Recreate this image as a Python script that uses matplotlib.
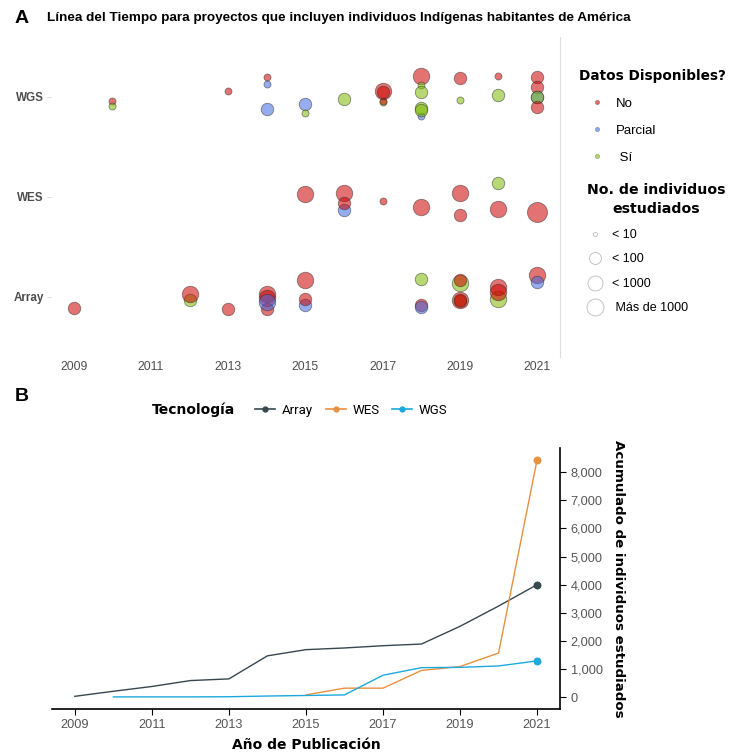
import matplotlib
matplotlib.use("Agg")
import matplotlib.pyplot as plt
from matplotlib.lines import Line2D
from matplotlib.ticker import FuncFormatter

# ---------------- Panel A: estudios por tecnologia ----------------
# Cada estudio: anio, desplazamiento vertical (jitter), datos disponibles, clase de tamano
wgs_years = [2010, 2010, 2013, 2014, 2014, 2014, 2015, 2015, 2016,
             2017, 2017, 2017, 2017, 2018, 2018, 2018, 2018, 2018, 2018,
             2019, 2019, 2020, 2020, 2021, 2021, 2021, 2021, 2021]
wgs_jitter = [-0.04, -0.09, 0.06, 0.20, 0.13, -0.12, -0.07, -0.16, -0.02,
              -0.05, -0.04, 0.06, 0.05, 0.21, 0.12, -0.19, -0.11, -0.13, 0.05,
              0.19, -0.03, 0.21, 0.02, 0.20, 0.10, 0.0, 0.0, -0.10]
wgs_datos = ["No", "Sí", "No", "No", "Parcial", "Parcial", "Parcial", "Sí", "Sí",
             "Sí", "No", "No", "No", "No", "Sí", "Parcial", "Sí", "Sí", "Sí",
             "No", "Sí", "No", "Sí", "No", "No", "Parcial", "Sí", "No"]
wgs_size = [1, 1, 1, 1, 1, 2, 2, 1, 2,
            1, 1, 3, 2, 3, 1, 1, 2, 2, 2,
            2, 1, 1, 2, 2, 2, 2, 2, 2]

wes_years = [2015, 2016, 2016, 2016, 2017, 2018, 2019, 2019, 2020, 2020, 2021]
wes_jitter = [0.03, 0.035, -0.135, -0.065, -0.04, -0.10, 0.04, -0.18, 0.14, -0.12, -0.15]
wes_datos = ["No", "No", "Parcial", "No", "No", "No", "No", "No", "Sí", "No", "No"]
wes_size = [3, 3, 2, 2, 1, 3, 3, 2, 2, 3, 4]

array_years = [2009, 2012, 2012, 2013, 2014, 2014, 2014, 2014, 2015, 2015, 2015,
               2018, 2018, 2018, 2019, 2019, 2019, 2019, 2019, 2020, 2020, 2020,
               2021, 2021]
array_jitter = [-0.11, -0.03, 0.03, -0.12, -0.12, 0.03, -0.01, -0.05, 0.17, -0.08, -0.02,
                0.18, -0.08, -0.10, 0.14, 0.17, -0.04, -0.03, -0.035, -0.02, 0.10, 0.05,
                0.22, 0.15]
array_datos = ["No", "Sí", "No", "No", "No", "No", "No", "Parcial", "No", "Parcial", "No",
               "Sí", "No", "Parcial", "Sí", "No", "Sí", "No", "No", "Sí", "No", "No",
               "No", "Parcial"]
array_size = [2, 2, 3, 2, 2, 3, 3, 3, 3, 2, 2,
              2, 2, 2, 3, 2, 2, 3, 2, 3, 3, 3,
              3, 2]

tecnologias = ["Array", "WES", "WGS"]
datos_labels = ["No", "Parcial", "Sí"]
size_labels = ["< 10", "< 100", "< 1000", " Más de 1000"]

# ---------------- Panel B: acumulado de individuos ----------------
array_cum_years = list(range(2009, 2022))
array_cum = [30, 210, 380, 590, 650, 1470, 1690, 1750, 1830, 1890, 2520, 3240, 4000]
wes_cum_years = list(range(2015, 2022))
wes_cum = [80, 320, 320, 950, 1090, 1570, 8440]
wgs_cum_years = list(range(2010, 2022))
wgs_cum = [10, 10, 10, 15, 40, 60, 80, 780, 1050, 1060, 1110, 1290]

datos_colors = {"No": "#CD0000", "Parcial": "#4169E1", "Sí": "#7CB900"}
size_px = {1: 7, 2: 12.5, 3: 16.5, 4: 20}
line_colors = {"Array": "#37474F", "WES": "#E8913F", "WGS": "#1CA9DE"}

BODY = "Liberation Sans"
HEAVY = "DejaVu Sans"

fig = plt.figure(figsize=(7.39, 7.53), dpi=100)

# --- A ---
axA = fig.add_axes([0.0687, 0.5259, 0.689, 0.425])
rows = [(wgs_years, wgs_jitter, wgs_datos, wgs_size, 3),
        (wes_years, wes_jitter, wes_datos, wes_size, 2),
        (array_years, array_jitter, array_datos, array_size, 1)]
for yrs, jit, dat, sz, base in rows:
    for x, j, d, s in zip(yrs, jit, dat, sz):
        axA.scatter(x, base + j, s=(size_px[s] * 0.72) ** 2, color=datos_colors[d],
                    alpha=0.55, edgecolors="#303030", linewidths=0.6, zorder=3)

axA.set_xlim(2008.4, 2021.6)
axA.set_ylim(0.4, 3.6)
axA.set_xticks(range(2009, 2022, 2))
axA.set_yticks([1, 2, 3])
axA.set_yticklabels(tecnologias, fontweight="bold")
for side in ["left", "top", "bottom"]:
    axA.spines[side].set_visible(False)
axA.spines["right"].set_color("#dddddd")
axA.spines["right"].set_linewidth(0.8)
axA.tick_params(axis="x", length=0, pad=3, labelsize=8.8, labelcolor="#4d4d4d")
axA.tick_params(axis="y", length=3, color="#dddddd", pad=2, labelsize=8.4,
                labelcolor="#4d4d4d")
for lab in axA.get_xticklabels() + axA.get_yticklabels():
    lab.set_fontfamily(BODY)

# leyenda de colores
col_handles = [Line2D([], [], ls="none", marker="o", markersize=3.2,
                      markerfacecolor=datos_colors[d], markeredgecolor="#555555",
                      markeredgewidth=0.3, alpha=0.6) for d in datos_labels]
legA1 = fig.legend(col_handles, ["No", "Parcial", " Sí"], loc="upper left",
                   bbox_to_anchor=(0.787, 0.915), frameon=False,
                   title="Datos Disponibles?", alignment="left",
                   prop={"family": BODY, "size": 9.5}, labelspacing=1.1,
                   handletextpad=0.6, borderaxespad=0, handlelength=1.6)
legA1.get_title().set_fontfamily(HEAVY)
legA1.get_title().set_fontweight("bold")
legA1.get_title().set_fontsize(9.8)
# el titulo se corre a la izquierda de los simbolos
legA1.get_title().set_position((-8, 0))

# leyenda de tamanos
size_handles = [Line2D([], [], ls="none", marker="o",
                       markersize=[2.9, 8.6, 10.8, 12.2][i], markerfacecolor="none",
                       markeredgecolor="#bbbbbb", markeredgewidth=0.6)
                for i in range(4)]
legA2 = fig.legend(size_handles, size_labels, loc="upper left",
                   bbox_to_anchor=(0.787, 0.763), frameon=False,
                   title="No. de individuos\nestudiados", alignment="left",
                   prop={"family": BODY, "size": 9}, labelspacing=1.0,
                   handletextpad=0.6, borderaxespad=0, handlelength=1.4)
legA2.get_title().set_fontfamily(HEAVY)
legA2.get_title().set_fontweight("bold")
legA2.get_title().set_fontsize(10.2)
legA2.get_title().set_multialignment("center")
legA2.get_title().set_linespacing(1.45)

fig.text(0.02, 0.976, "A", fontsize=14, fontweight="bold", family=BODY, va="center")
fig.text(0.0636, 0.976,
         "Línea del Tiempo para proyectos que incluyen individuos Indígenas habitantes de América",
         fontsize=9.7, fontweight="bold", family=BODY, va="center")

# --- B ---
axB = fig.add_axes([0.070, 0.0584, 0.688, 0.3466])
series = [("Array", array_cum_years, array_cum),
          ("WES", wes_cum_years, wes_cum),
          ("WGS", wgs_cum_years, wgs_cum)]
for name, yrs, vals in series:
    axB.plot(yrs, vals, color=line_colors[name], lw=1.0, zorder=3)
    axB.scatter(yrs[-1], vals[-1], s=22, color=line_colors[name], zorder=4)

axB.set_xlim(2008.4, 2021.6)
axB.set_ylim(-422, 8862)
axB.set_xticks(range(2009, 2022, 2))
axB.set_yticks(range(0, 8001, 1000))
axB.yaxis.set_major_formatter(FuncFormatter(lambda v, p: f"{int(v):,}"))
axB.yaxis.tick_right()
axB.yaxis.set_label_position("right")
axB.spines["top"].set_visible(False)
axB.spines["left"].set_visible(False)
for side in ["bottom", "right"]:
    axB.spines[side].set_linewidth(1.2)
axB.tick_params(axis="both", length=4, width=0.8, labelsize=9.2, labelcolor="#555555")
for lab in axB.get_xticklabels() + axB.get_yticklabels():
    lab.set_fontfamily(BODY)
axB.set_xlabel("Año de Publicación", family=HEAVY, fontweight="bold", fontsize=10,
               labelpad=5)
axB.set_ylabel("Acumulado de individuos estudiados", family=HEAVY, fontweight="bold",
               fontsize=9.6, rotation=270, labelpad=16)

fig.text(0.02, 0.473, "B", fontsize=14, fontweight="bold", family=BODY, va="center")
fig.text(0.2057, 0.4555, "Tecnología", family=HEAVY, fontweight="bold", fontsize=10,
         va="center")
tech_handles = [Line2D([], [], color=line_colors[t], lw=1.2, marker="o", markersize=3.5)
                for t in tecnologias]
fig.legend(tech_handles, tecnologias, loc="center left", bbox_to_anchor=(0.338, 0.4555),
           ncol=3, frameon=False, prop={"family": "Roboto", "size": 9.5},
           handlelength=1.5, handletextpad=0.5, columnspacing=1.0, borderaxespad=0)

fig.savefig("out.png", dpi=100)
